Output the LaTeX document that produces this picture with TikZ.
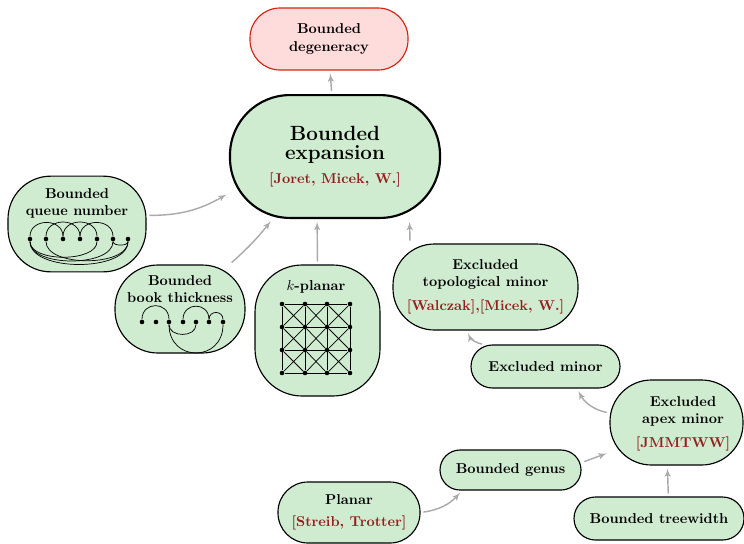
\documentclass[tikz,border=0pt]{standalone}
\usepackage{tikz}
\usetikzlibrary{arrows}

\definecolor{blobgreen}{RGB}{208,236,208}
\definecolor{blobpink}{RGB}{255,220,220}
\definecolor{blobred}{RGB}{210,35,20}
\definecolor{citered}{RGB}{145,30,30}
\definecolor{arrowgray}{RGB}{170,170,170}

\begin{document}
\begin{tikzpicture}
		[x=0.7pt,y=0.7pt,every node/.style={font=\bfseries,align=center},
		blob/.style={draw,thick,fill=blobgreen,inner sep=0pt},
		edge/.style={->,> = latex',draw=arrowgray,line width=1pt,shorten >=2pt,shorten <=2pt},
		vert/.style={circle,fill=black,inner sep=0pt,minimum size=3.2pt},
		gedge/.style={line width=0.5pt}]
		\useasboundingbox (0,0) rectangle (744,-543);
		
		\node[blob,draw=blobred,fill=blobpink,minimum width=110.6pt,minimum height=43.4pt,rounded corners=21pt] (deg) at (329,-39) {Bounded\\degeneracy};
		\node[blob,line width=1.5pt,minimum width=147pt,minimum height=86pt,rounded corners=42pt] (exp) at (335,-156.5) {{\Large Bounded}\\[1pt]{\Large expansion}\\[5pt]\textcolor{citered}{[Joret, Micek, W.]}};
		\node[blob,minimum width=96.6pt,minimum height=67pt,rounded corners=30pt] (queue) at (77,-224) {};
		\node (queuetxt) at (77,-203) {Bounded\\queue number};
		\node[blob,minimum width=91pt,minimum height=61.6pt,rounded corners=30pt] (book) at (180,-309) {};
		\node (booktxt) at (180,-289.5) {Bounded\\book thickness};
		\node[blob,minimum width=87.5pt,minimum height=91.7pt,rounded corners=33pt] (kpl) at (317.5,-330.5) {};
		\node (kpltxt) at (316,-287) {$k$-planar};
		\node[blob,minimum width=129.5pt,minimum height=60.2pt,rounded corners=29pt] (topo) at (485.5,-287) {Excluded\\topological minor\\[5pt]\textcolor{citered}{[Walczak],[Micek, W.]}};
		\node[blob,minimum width=104.3pt,minimum height=30.1pt,rounded corners=15pt] (minor) at (545.5,-366.5) {Excluded minor};
		\node[blob,minimum width=93.1pt,minimum height=59.5pt,rounded corners=29pt] (apex) at (676.5,-422.5) {};
		\node (apextxt) at (683,-424) {Excluded\\apex minor\\[5pt]\textcolor{citered}{[JMMTWW]}};
		\node[blob,minimum width=98.7pt,minimum height=28pt,rounded corners=14pt] (genus) at (510.5,-470) {Bounded genus};
		\node[blob,minimum width=99.4pt,minimum height=42.7pt,rounded corners=21pt] (planar) at (349,-512.5) {Planar\\[3pt]\textcolor{citered}{[Streib, Trotter]}};
		\node[blob,minimum width=119pt,minimum height=30.1pt,rounded corners=15pt] (tw) at (659,-518.5) {Bounded treewidth};
		
		% queue layout
		\foreach \i/\x in {1/30,2/46,3/63,4/80,5/97,6/113,7/128}
		\node[vert] (q\i) at (\x,-239) {};
		\foreach \a/\b in {1/3,2/4,3/5,4/6}
		\draw[gedge] (q\a) to[out=90,in=90,looseness=1.45] (q\b);
		\foreach \a/\b in {1/5,1/6,2/7,1/7,6/7}
		\draw[gedge] (q\a) to[out=-90,in=-90,looseness=0.8] (q\b);
		
		% book embedding
		\foreach \i/\x in {1/142,2/156,3/169,4/183,5/196,6/209,7/223}
		\node[vert] (b\i) at (\x,-322) {};
		\foreach \a/\b/\lo in {1/3/1.75,4/6/1.75,6/7/1.7}
		\draw[gedge] (b\a) to[out=90,in=90,looseness=\lo] (b\b);
		\foreach \a/\b/\lo in {3/7/1.8,3/5/1.25}
		\draw[gedge] (b\a) to[out=-90,in=-90,looseness=\lo] (b\b);
		
		% grid with crossings
		\foreach \i/\x in {1/282,2/305,3/327,4/350}
		\foreach \j/\y in {1/304,2/327,3/350,4/373}
		\node[vert] (g\i\j) at (\x,-\y) {};
		\foreach \j in {1,...,4}
		\draw[gedge] (g1\j) -- (g4\j) (g\j1) -- (g\j4);
		\foreach \ia/\ib in {1/2,2/3,3/4}
		\foreach \ja/\jb in {1/2,2/3,3/4}
		\draw[gedge] (g\ia\ja) -- (g\ib\jb) (g\ib\ja) -- (g\ia\jb);
		
		\foreach \from/\to/\bend in {exp.93/deg.272/0,queue.7/exp.199/-15,book.42/exp.225/-5,kpl.90/exp.254/0,topo.150/exp.320/0,minor.160/topo.247/30,apex.172/minor.325/25,genus.6/apex.204/0,tw.67/apex.258/0,planar.0/genus.203/-20}
		\draw[edge] (\from) to[bend left=\bend] (\to);
		\end{tikzpicture}
\end{document}
